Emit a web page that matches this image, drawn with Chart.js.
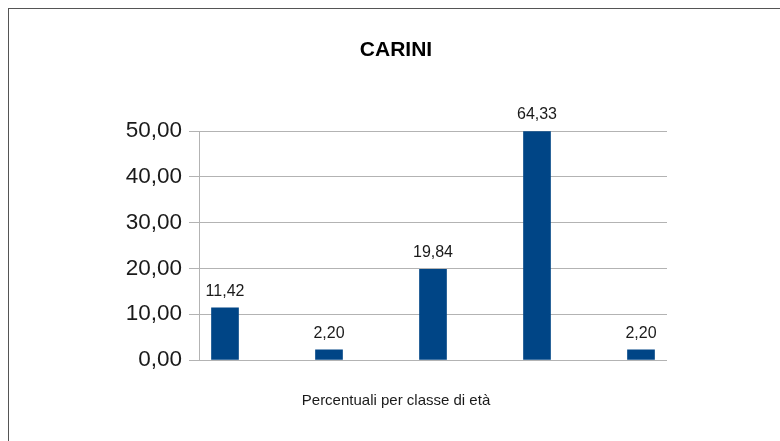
<!DOCTYPE html>
<html>
<head>
<meta charset="utf-8">
<script src="https://cdn.jsdelivr.net/npm/chart.js@4"></script>
<style>
  body { margin: 0; background: #fff; overflow: hidden; }
  #frame { position: absolute; left: 8px; top: 8px; width: 820px; height: 520px; border: 1px solid #555; }
  #chart { position: absolute; left: 0; top: 0; }
</style>
</head>
<body>
<div id="frame"></div>
<canvas id="chart" width="780" height="441"></canvas>
<script>
// classi di età (posizione sull'asse) e percentuali
const classi = [1, 2, 3, 4, 5];
const percentuali = [11.42, 2.20, 19.84, 64.33, 2.20];
const yTicks = [0, 10, 20, 30, 40, 50];

function virgola(v) {
    return v.toFixed(2).replace('.', ',');
}

// etichette sopra le barre
const valueLabels = {
    id: 'valueLabels',
    afterDatasetsDraw(chart) {
        const ctx = chart.ctx;
        const meta = chart.getDatasetMeta(0);
        ctx.save();
        ctx.font = '16px "Liberation Sans", Arial, sans-serif';
        ctx.fillStyle = '#1a1a1a';
        ctx.textAlign = 'center';
        ctx.textBaseline = 'alphabetic';
        meta.data.forEach((bar, i) => {
            const top = Math.max(bar.y, chart.chartArea.top);
            ctx.fillText(virgola(percentuali[i]), bar.x, top - 12);
        });
        ctx.restore();
    }
};

const ctx = document.getElementById('chart').getContext('2d');

new Chart(ctx, {
    type: 'bar',
    data: {
        datasets: [{
            data: classi.map((c, i) => ({ x: c, y: percentuali[i] })),
            backgroundColor: '#004586',
            barThickness: 27
        }]
    },
    options: {
        responsive: false,
        animation: false,
        devicePixelRatio: 1,
        layout: { padding: { left: 12, right: 0, top: 0, bottom: 0 } },
        plugins: {
            legend: { display: false },
            tooltip: { enabled: false },
            title: {
                display: true,
                text: 'CARINI',
                color: '#000',
                font: { family: '"Liberation Sans", Arial, sans-serif', size: 21, weight: 'bold' },
                padding: { top: 38, bottom: 68 }
            },
            subtitle: {
                display: true,
                position: 'bottom',
                text: 'Percentuali per classe di età',
                color: '#1a1a1a',
                font: { family: '"Liberation Sans", Arial, sans-serif', size: 15 },
                padding: { top: 32, bottom: 31 }
            }
        },
        scales: {
            x: {
                type: 'linear',
                display: false,
                offset: false,
                min: 0.75,
                max: 5.25
            },
            y: {
                min: 0,
                max: 50,
                afterFit(scale) { scale.width = 187; },
                afterBuildTicks(scale) { scale.ticks = yTicks.map(v => ({ value: v })); },
                ticks: {
                    padding: 7,
                    color: '#1a1a1a',
                    font: { family: '"Liberation Sans", Arial, sans-serif', size: 22.5 },
                    callback: v => virgola(v)
                },
                grid: { color: '#b3b3b3', tickLength: 10 },
                border: { color: '#b3b3b3' }
            },
            y2: {
                position: 'right',
                display: true,
                afterFit(scale) { scale.width = 113; },
                ticks: { display: false },
                grid: { display: false, drawTicks: false },
                border: { display: false }
            }
        }
    },
    plugins: [valueLabels]
});
</script>
</body>
</html>
